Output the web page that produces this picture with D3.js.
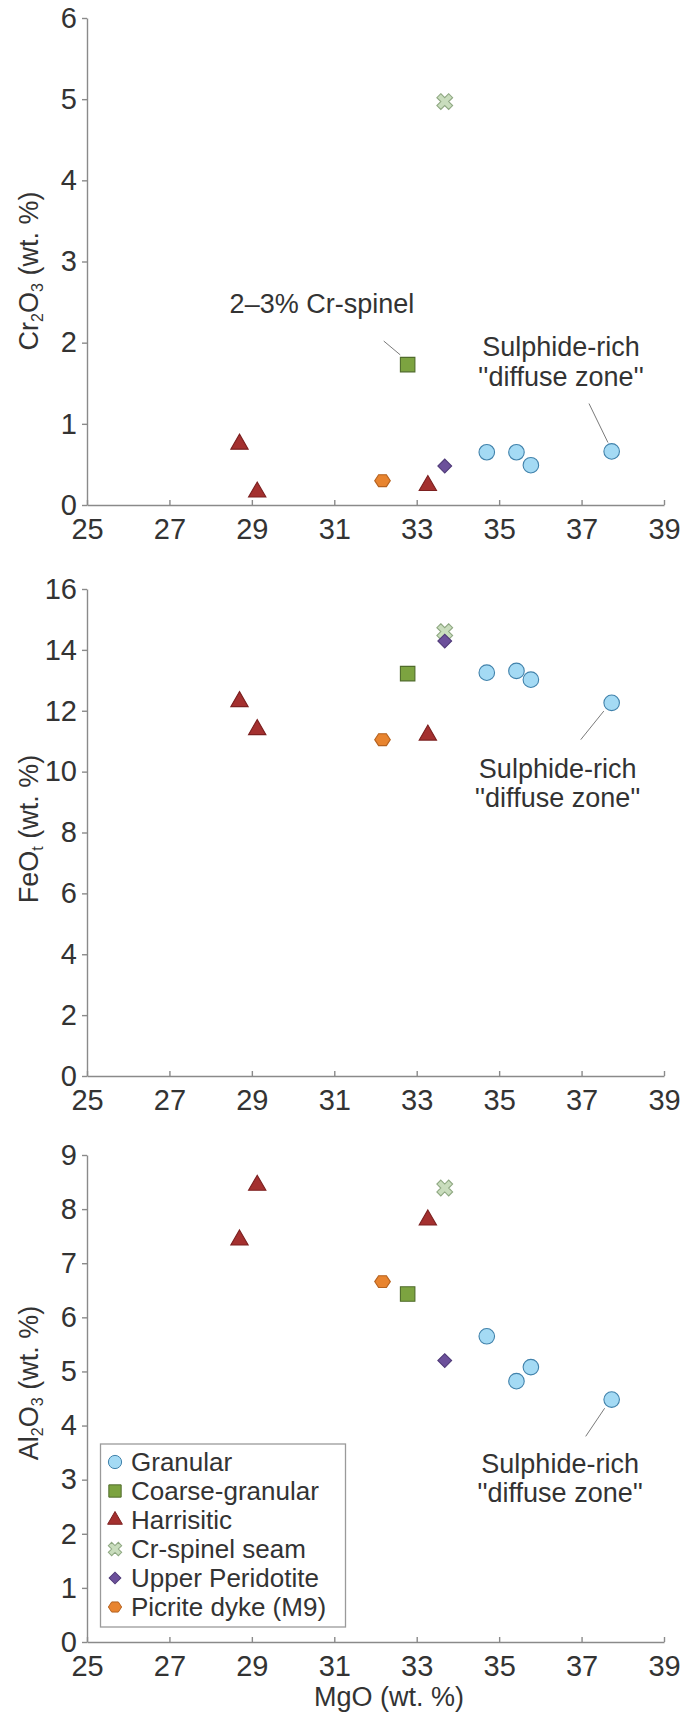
<!DOCTYPE html>
<html>
<head>
<meta charset="utf-8">
<script src="https://cdnjs.cloudflare.com/ajax/libs/d3/7.8.5/d3.min.js"></script>
<style>
    body { margin: 0; background: #fff; }
    svg { font-family: 'Liberation Sans', Arial, sans-serif; }
    .axis path, .axis line { stroke: #8a8a8a; stroke-width: 1.4px; }
    .axis text { fill: #333; font-size: 29px; font-family: 'Liberation Sans', Arial, sans-serif; }
    .axis-title { fill: #333; font-size: 27px; }
    .note { fill: #333; font-size: 27px; }
    .leader { stroke: #7a7a7a; stroke-width: 1px; }
    .legend-text { fill: #333; font-size: 26px; }
</style>
</head>
<body>
<div id="chart"></div>
<script>
// Rock groups, in legend order
let groups = ['Granular', 'Coarse-granular', 'Harrisitic', 'Cr-spinel seam', 'Upper Peridotite', 'Picrite dyke (M9)'];

// One entry per sample
let sampleGroup = ['Granular', 'Granular', 'Granular', 'Granular', 'Coarse-granular',
    'Harrisitic', 'Harrisitic', 'Harrisitic', 'Cr-spinel seam', 'Upper Peridotite', 'Picrite dyke (M9)'];
let mgo   = [34.70, 35.42, 35.77, 37.73, 32.78, 28.70, 29.13, 33.27, 33.68, 33.68, 32.17];
let cr2o3 = [0.65, 0.65, 0.49, 0.66, 1.73, 0.75, 0.16, 0.24, 4.97, 0.48, 0.30];
let feot  = [13.25, 13.31, 13.02, 12.26, 13.22, 12.30, 11.38, 11.20, 14.60, 14.29, 11.05];
let al2o3 = [5.65, 4.82, 5.08, 4.48, 6.43, 7.43, 8.44, 7.80, 8.39, 5.20, 6.66];

// Tick labels
let xTicks = [25, 27, 29, 31, 33, 35, 37, 39];
let crTicks = [0, 1, 2, 3, 4, 5, 6];
let feTicks = [0, 2, 4, 6, 8, 10, 12, 14, 16];
let alTicks = [0, 1, 2, 3, 4, 5, 6, 7, 8, 9];

// Annotation texts
let sulphideNote = ['Sulphide-rich', "''diffuse zone''"];
let spinelNote = '2\u20133% Cr-spinel';

let width = 682, height = 1716;

let svg = d3.select('div#chart')
    .append('svg')
        .attr('width', width)
        .attr('height', height);

// Shared x scale
let scX = d3.scaleLinear().domain([25, 39]).range([87, 664]);

// Marker styles per group
let groupStyle = {
    'Granular':          {shape: 'circle',   fill: '#a4daf4', stroke: '#4182ab'},
    'Coarse-granular':   {shape: 'square',   fill: '#7ca340', stroke: '#4f6b2a'},
    'Harrisitic':        {shape: 'triangle', fill: '#a4302f', stroke: '#7c2020'},
    'Cr-spinel seam':    {shape: 'cross',    fill: '#c9ddbd', stroke: '#8fa882'},
    'Upper Peridotite':  {shape: 'diamond',  fill: '#6c509b', stroke: '#4f3a78'},
    'Picrite dyke (M9)': {shape: 'hexagon',  fill: '#e8842f', stroke: '#b5621f'}
};

function hexPath(r) {
    let pts = d3.range(6).map(i => [r * Math.cos(i * Math.PI / 3), 0.88 * r * Math.sin(i * Math.PI / 3)]);
    return 'M' + pts.join('L') + 'Z';
}

function markerPath(shape, k) {
    if (shape === 'circle') return d3.symbol(d3.symbolCircle, 190 * k * k)();
    if (shape === 'square') return d3.symbol(d3.symbolSquare, 210 * k * k)();
    if (shape === 'triangle') return d3.symbol(d3.symbolTriangle, 130 * k * k)();
    if (shape === 'cross') return d3.symbol(d3.symbolCross, 155 * k * k)();
    if (shape === 'diamond') return d3.symbol(d3.symbolSquare, 95 * k * k)();
    return hexPath(7.8 * k);
}

function markerRotation(shape) {
    return (shape === 'cross' || shape === 'diamond') ? 45 : 0;
}

// Panel setup (annotation anchors are in data units)
let panels = [
    {values: cr2o3, ticks: crTicks, domain: [0, 6], range: [505, 18], title: ['Cr', '2', 'O', '3', ' (wt. %)'], titleY: 271,
     spinel: {text: [30.7, 2.48], line: [[32.2, 2.02], [32.6, 1.85]]},
     note: {x: 36.5, y: [1.95, 1.59], line: [[37.18, 1.25], [37.64, 0.77]]}},
    {values: feot, ticks: feTicks, domain: [0, 16], range: [1076, 589], title: ['FeO', 't', ' (wt. %)'], titleY: 829,
     note: {x: 36.42, y: [10.1, 9.16], line: [[37.54, 11.99], [36.98, 11.05]]}},
    {values: al2o3, ticks: alTicks, domain: [0, 9], range: [1642, 1155], title: ['Al', '2', 'O', '3', ' (wt. %)'], titleY: 1383,
     note: {x: 36.48, y: [3.3, 2.76], line: [[37.56, 4.32], [37.1, 3.8]]}}
];

panels.forEach(p => {
    let scY = d3.scaleLinear().domain(p.domain).range(p.range);
    let g = svg.append('g');

    // Axes
    g.append('g')
        .attr('class', 'axis x-axis')
        .attr('transform', `translate(0,${p.range[0]})`)
        .call(d3.axisBottom(scX).tickValues(xTicks).tickFormat(d3.format('d'))
            .tickSizeInner(-5).tickSizeOuter(0).tickPadding(13));
    g.append('g')
        .attr('class', 'axis y-axis')
        .attr('transform', `translate(${scX(25)},0)`)
        .call(d3.axisLeft(scY).tickValues(p.ticks).tickFormat(d3.format('d'))
            .tickSizeInner(5).tickSizeOuter(0).tickPadding(5));

    // Y title with subscripts
    let t = g.append('text')
        .attr('class', 'axis-title')
        .attr('text-anchor', 'middle')
        .attr('transform', `translate(38,${p.titleY}) rotate(-90)`);
    p.title.forEach(s => {
        let sub = (s === '2' || s === '3' || s === 't');
        t.append('tspan')
            .attr('font-size', sub ? '16px' : null)
            .attr('baseline-shift', sub ? '-5' : null)
            .text(s);
    });

    // Annotation leader + text
    let n = p.note;
    g.append('line')
        .attr('class', 'leader')
        .attr('x1', scX(n.line[0][0])).attr('y1', scY(n.line[0][1]))
        .attr('x2', scX(n.line[1][0])).attr('y2', scY(n.line[1][1]));
    sulphideNote.forEach((s, i) => {
        g.append('text')
            .attr('class', 'note')
            .attr('text-anchor', 'middle')
            .attr('x', scX(n.x))
            .attr('y', scY(n.y[i]))
            .attr('dy', '0.36em')
            .text(s);
    });

    if (p.spinel) {
        g.append('line')
            .attr('class', 'leader')
            .attr('x1', scX(p.spinel.line[0][0])).attr('y1', scY(p.spinel.line[0][1]))
            .attr('x2', scX(p.spinel.line[1][0])).attr('y2', scY(p.spinel.line[1][1]));
        g.append('text')
            .attr('class', 'note')
            .attr('text-anchor', 'middle')
            .attr('x', scX(p.spinel.text[0]))
            .attr('y', scY(p.spinel.text[1]))
            .attr('dy', '0.36em')
            .text(spinelNote);
    }

    // Points
    g.selectAll('path.pt')
        .data(d3.range(mgo.length))
        .enter()
        .append('path')
            .attr('class', 'pt')
            .attr('d', i => markerPath(groupStyle[sampleGroup[i]].shape, 1))
            .attr('transform', i => `translate(${scX(mgo[i])},${scY(p.values[i])}) rotate(${markerRotation(groupStyle[sampleGroup[i]].shape)})`)
            .attr('fill', i => groupStyle[sampleGroup[i]].fill)
            .attr('stroke', i => groupStyle[sampleGroup[i]].stroke)
            .attr('stroke-width', 1.1);
});

// X title
svg.append('text')
    .attr('class', 'axis-title')
    .attr('text-anchor', 'middle')
    .attr('x', 389)
    .attr('y', 1706)
    .text('MgO (wt. %)');

// Legend
let legend = svg.append('g').attr('class', 'legend');
legend.append('rect')
    .attr('x', 100.5).attr('y', 1444)
    .attr('width', 245).attr('height', 183)
    .attr('fill', '#fff')
    .attr('stroke', '#9a9a9a')
    .attr('stroke-width', 1.3);
groups.forEach((grp, i) => {
    let cy = 1462 + i * 29;
    let st = groupStyle[grp];
    legend.append('path')
        .attr('d', markerPath(st.shape, 0.85))
        .attr('transform', `translate(115,${cy}) rotate(${markerRotation(st.shape)})`)
        .attr('fill', st.fill)
        .attr('stroke', st.stroke)
        .attr('stroke-width', 1);
    legend.append('text')
        .attr('class', 'legend-text')
        .attr('x', 131)
        .attr('y', cy)
        .attr('dy', '0.36em')
        .text(grp);
});
</script>
</body>
</html>
